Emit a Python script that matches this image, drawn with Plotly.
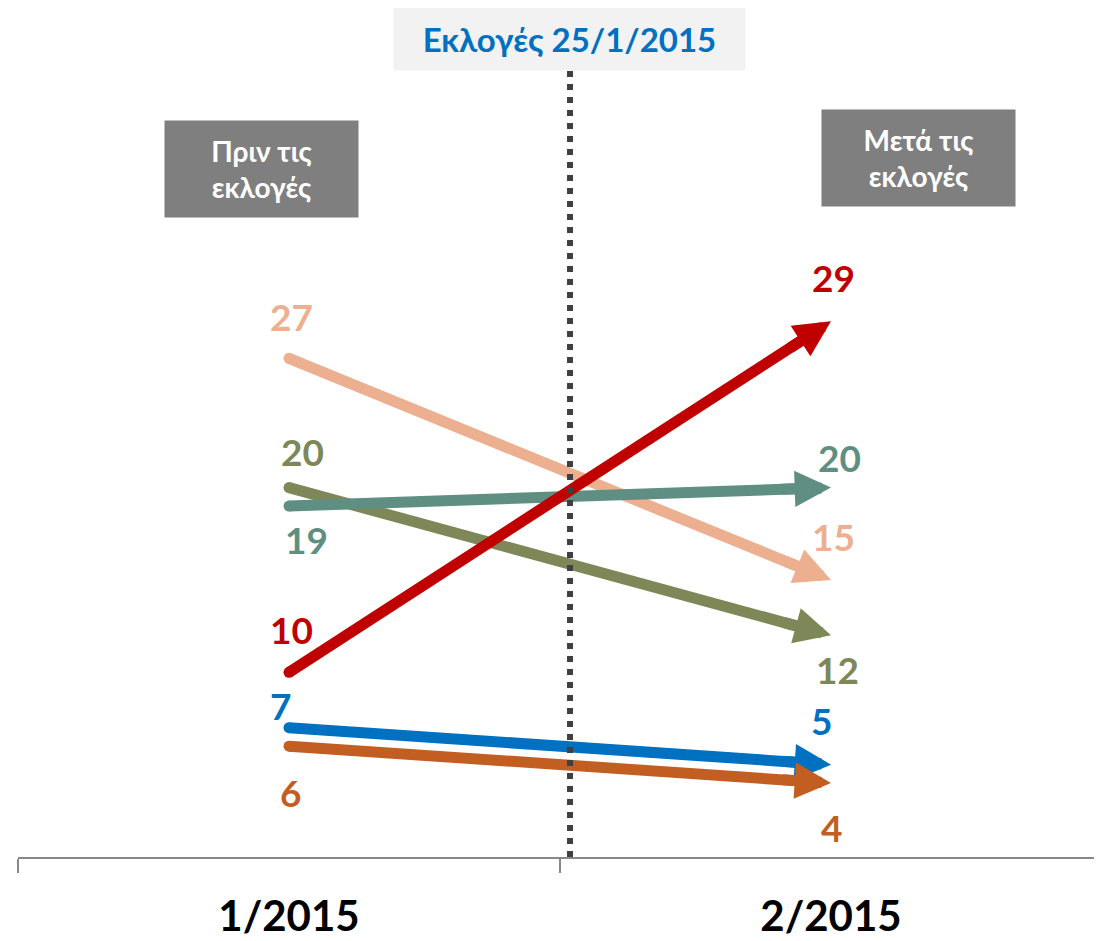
import math
import plotly.graph_objects as go

# ---- data ----
categories = ["1/2015", "2/2015"]
series_names = ["peach", "olive", "teal", "blue", "brown", "red"]
before_values = [27, 20, 19, 7, 6, 10]
after_values = [15, 12, 20, 5, 4, 29]
event_label = "Εκλογές 25/1/2015"
before_box_label = "Πριν τις<br>εκλογές"
after_box_label = "Μετά τις<br>εκλογές"

# ---- styles ----
colors = ["#ECAF8F", "#7E8757", "#5F8E82", "#0070C0", "#C35E23", "#C00000"]
# label offsets in px (dx, dy with dy positive = up) for start and end labels
start_offsets = [(2, 42), (13, 36), (17, -33), (-9, 22), (1, -46), (2, 43)]
end_offsets = [(2, 43), (6, -34), (8, 30), (-10, 44), (0, -44), (2, 44)]

FONT = "Lato, 'Open Sans', sans-serif"
# the page body has an 8px margin; the figure is sized to end at the window edge
W, H = 1094, 933
ML, MR, MT, MB = 10, 0, 0, 84
px_per_unit = 18.47
plot_w = W - ML - MR
plot_h = H - MT - MB
y_top = plot_h / px_per_unit
cat_px = plot_w / 2.0

LINE_W = 11
HEAD_SIZE = 0.66

fig = go.Figure()

for name, b, a, c in zip(series_names, before_values, after_values, colors):
    fig.add_trace(go.Scatter(
        x=categories, y=[b, a], mode="lines+markers", name=name,
        line=dict(color=c, width=LINE_W, backoff=22),
        marker=dict(symbol="circle", size=[LINE_W, 0], color=c, opacity=1,
                    line=dict(width=0)),
        hoverinfo="skip", showlegend=False, cliponaxis=False,
    ))

annotations = []
# arrowheads, pointing along each line (direction derived from the data scale)
for b, a, c in zip(before_values, after_values, colors):
    dx = cat_px
    dy = -(a - b) * px_per_unit
    L = math.hypot(dx, dy)
    tail = 50
    annotations.append(dict(x=1, y=a, xref="x", yref="y", text="",
                            showarrow=True, axref="pixel", ayref="pixel",
                            ax=-tail * dx / L, ay=-tail * dy / L,
                            arrowhead=2, arrowsize=HEAD_SIZE, arrowwidth=LINE_W,
                            arrowcolor=c, standoff=0,
                            font=dict(size=1)))

for b, a, c, so, eo in zip(before_values, after_values, colors, start_offsets, end_offsets):
    annotations.append(dict(x=0, y=b, xref="x", yref="y", text=f"<b>{b}</b>",
                            showarrow=False, xshift=so[0], yshift=so[1],
                            font=dict(family=FONT, size=37, color=c)))
    annotations.append(dict(x=1, y=a, xref="x", yref="y", text=f"<b>{a}</b>",
                            showarrow=False, xshift=eo[0], yshift=eo[1],
                            font=dict(family=FONT, size=37, color=c)))

annotations.append(dict(x=0.509, y=(857 - 39 - 0) / 849, xref="paper", yref="paper",
                        text=f"<b>{event_label}</b>", showarrow=False,
                        xanchor="center", yanchor="middle",
                        width=351, height=62, borderpad=0, bgcolor="#F2F2F2",
                        font=dict(family=FONT, size=33, color="#0070C0")))
annotations.append(dict(x=0.2246, y=(857 - 169) / 849, xref="paper", yref="paper",
                        text=f"<b>{before_box_label}</b>", showarrow=False,
                        xanchor="center", yanchor="middle",
                        width=193, height=96, borderpad=0, bgcolor="#7F7F7F",
                        font=dict(family=FONT, size=28, color="#FFFFFF")))
annotations.append(dict(x=0.8307, y=(857 - 158) / 849, xref="paper", yref="paper",
                        text=f"<b>{after_box_label}</b>", showarrow=False,
                        xanchor="center", yanchor="middle",
                        width=193, height=96, borderpad=0, bgcolor="#7F7F7F",
                        font=dict(family=FONT, size=28, color="#FFFFFF")))

fig.add_shape(type="line", xref="x", yref="paper", x0=0.5185, x1=0.5185,
              y0=0, y1=(857 - 70) / 849, layer="above",
              line=dict(color="#404040", width=6, dash="6px,7px"))

fig.update_layout(
    width=W, height=H, margin=dict(l=ML, r=MR, t=MT, b=MB),
    paper_bgcolor="white", plot_bgcolor="white",
    annotations=annotations, showlegend=False,
    xaxis=dict(type="category", range=[-0.5, 1.5], showline=True,
               linecolor="#888888", linewidth=2, ticks="outside",
               tickson="boundaries", ticklen=14, tickwidth=2, tickcolor="#888888",
               ticklabelstandoff=22,
               showgrid=False, zeroline=False, fixedrange=True,
               tickfont=dict(family=FONT, size=42, color="#000000", weight="bold")),
    yaxis=dict(range=[0, y_top], visible=False, showgrid=False, zeroline=False,
               fixedrange=True),
)

fig.write_html("out.html")
